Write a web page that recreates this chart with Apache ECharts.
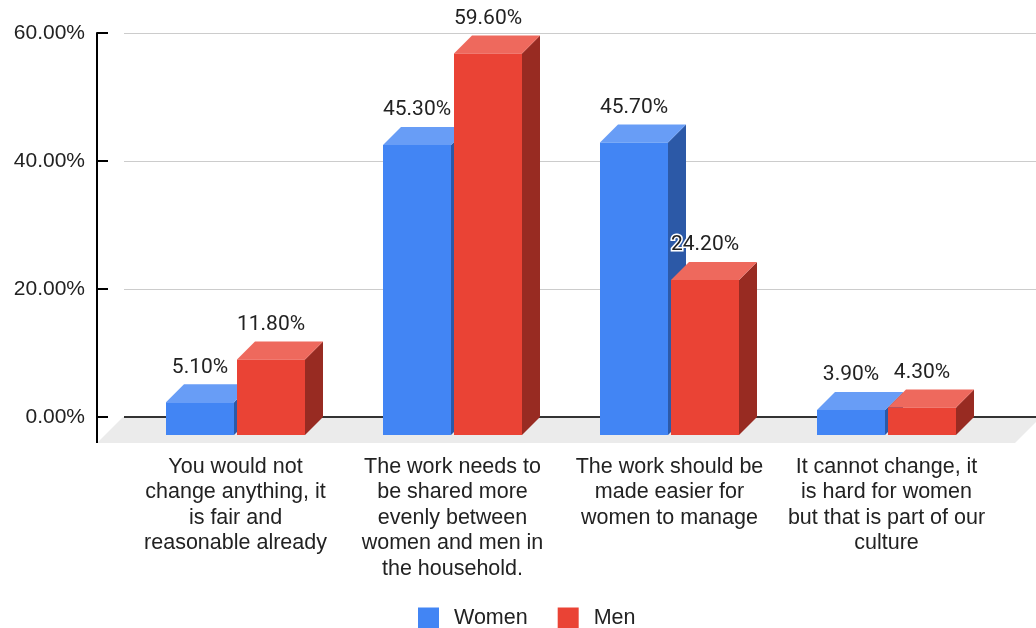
<!DOCTYPE html>
<html>
<head>
<meta charset="utf-8">
<style>
  html, body { margin: 0; padding: 0; background: #fff; }
  #chart { width: 1036px; height: 628px; }
</style>
<script src="https://cdn.jsdelivr.net/npm/echarts@6/dist/echarts.min.js"></script>
</head>
<body>
<div id="chart"></div>
<script>
// Survey answers: how household work should change
const categories = [
  'You would not\nchange anything, it\nis fair and\nreasonable already',
  'The work needs to\nbe shared more\nevenly between\nwomen and men in\nthe household.',
  'The work should be\nmade easier for\nwomen to manage',
  'It cannot change, it\nis hard for women\nbut that is part of our\nculture'
];
const seriesNames = ['Women', 'Men'];
const women = [5.1, 45.3, 45.7, 3.9];
const men = [11.8, 59.6, 24.2, 4.3];
const yMin = 0, yMax = 60, yStep = 20;

const FONT = '"Liberation Sans", Arial, sans-serif';
const LABEL_FONT = 'Roboto, "Liberation Sans", Arial, sans-serif';
const TEXT = '#222';
const DEPTH = 18;      // bar depth (projected)
const FLOOR = 26;      // floor depth (projected)
const BAR_W = 68;
const BAR_GAP = 1.5;

const palettes = {
  Women: { front: '#4285F4', top: '#689DF6', side: '#2C59A7' },
  Men:   { front: '#EA4335', top: '#EE695D', side: '#982B22' }
};

function fmt(v) { return v.toFixed(2) + '%'; }

function barX(center, side) {
  return side < 0 ? center - BAR_GAP - BAR_W : center + BAR_GAP;
}

function makeBar(side, pal) {
  return function (params, api) {
    const t = api.coord([api.value(0), api.value(1)]);
    const b = api.coord([api.value(0), 0]);
    const x0 = barX(t[0], side), x1 = x0 + BAR_W;
    const yT = t[1], y0 = b[1], d = DEPTH;
    return {
      type: 'group',
      children: [
        { type: 'polygon', shape: { points: [[x1, yT + d], [x1 + d, yT], [x1 + d, y0], [x1, y0 + d]] },
          style: { fill: pal.side } },
        { type: 'polygon', shape: { points: [[x0, yT + d], [x0 + d, yT], [x1 + d, yT], [x1, yT + d]] },
          style: { fill: pal.top } },
        { type: 'rect', shape: { x: x0, y: yT + d, width: BAR_W, height: y0 - yT },
          style: { fill: pal.front } }
      ]
    };
  };
}

function renderLabel(params, api) {
  const t = api.coord([api.value(0), api.value(1)]);
  const x0 = barX(t[0], api.value(2));
  return {
    type: 'text',
    x: x0 + BAR_W / 2,
    y: t[1] - 17,
    style: {
      text: fmt(api.value(1)),
      fill: TEXT, stroke: '#fff', lineWidth: 3,
      fontSize: 21, fontFamily: LABEL_FONT,
      align: 'center', verticalAlign: 'middle'
    }
  };
}

// Floor of the 3D plot, the baseline and the lower end of the value axis line
function renderFloor(params, api) {
  const p0 = api.coord([0, 0]);
  const p1 = api.coord([1, 0]);
  const y = p0[1];
  const xl = p0[0] - 1;
  return {
    type: 'group',
    children: [
      { type: 'polygon',
        shape: { points: [[xl, y], [p1[0] + 5, y], [p1[0] + 5 - FLOOR, y + FLOOR], [xl - FLOOR, y + FLOOR]] },
        style: { fill: '#ebebeb' } },
      { type: 'line',
        shape: { x1: p0[0], y1: y, x2: p1[0], y2: y },
        style: { stroke: '#333', lineWidth: 2 } },
      { type: 'line',
        shape: { x1: p0[0] - 27, y1: y - 1, x2: p0[0] - 27, y2: y + FLOOR },
        style: { stroke: '#000', lineWidth: 2 } }
    ]
  };
}

const labelData = [];
women.forEach((v, i) => labelData.push([i, v, -1]));
men.forEach((v, i) => labelData.push([i, v, 1]));

const chart = echarts.init(document.getElementById('chart'), null, { renderer: 'canvas' });
chart.setOption({
  animation: false,
  backgroundColor: '#fff',
  textStyle: { fontFamily: FONT },
  legend: {
    data: seriesNames,
    left: 418, top: 607, padding: 0,
    icon: 'rect', itemWidth: 21, itemHeight: 21, itemGap: 30,
    selectedMode: false,
    textStyle: { fontSize: 21.5, color: TEXT, fontFamily: FONT, padding: [5, 0, 0, 10] }
  },
  grid: [
    // back plane: value gridlines
    { left: 124, right: 0, top: 33, bottom: 211 },
    // bar plane: category positions
    { left: 127, right: 41, top: 33, bottom: 211 }
  ],
  xAxis: [
    { gridIndex: 0, type: 'value', min: 0, max: 1, show: false },
    { gridIndex: 1, type: 'category', data: categories,
      axisLine: { show: false }, axisTick: { show: false },
      axisLabel: { interval: 0, margin: 37, fontSize: 21.5, lineHeight: 25.5, color: TEXT, fontFamily: FONT, align: 'center' } }
  ],
  yAxis: [
    { gridIndex: 0, type: 'value', min: yMin, max: yMax, interval: yStep, offset: 27, z: 2,
      axisLine: { show: true, onZero: false, lineStyle: { color: '#000', width: 2 } },
      axisTick: { show: true, inside: true, length: 11, lineStyle: { color: '#000', width: 2 } },
      axisLabel: { formatter: fmt, margin: 12, fontSize: 21, color: TEXT, fontFamily: FONT },
      splitLine: { show: true, lineStyle: { color: ['#333', '#ccc', '#ccc', '#ccc'], width: 1 } } },
    { gridIndex: 1, type: 'value', min: yMin, max: yMax, interval: yStep, show: false,
      splitLine: { show: false } }
  ],
  series: [
    { type: 'custom', name: 'floor', xAxisIndex: 0, yAxisIndex: 0, z: 1, silent: true,
      data: [[0, 0]], renderItem: renderFloor },
    { type: 'custom', name: seriesNames[0], xAxisIndex: 1, yAxisIndex: 1, z: 3, silent: true,
      itemStyle: { color: palettes.Women.front },
      encode: { x: 0, y: 1 },
      data: women.map((v, i) => [i, v]), renderItem: makeBar(-1, palettes.Women) },
    { type: 'custom', name: seriesNames[1], xAxisIndex: 1, yAxisIndex: 1, z: 3, silent: true,
      itemStyle: { color: palettes.Men.front },
      encode: { x: 0, y: 1 },
      data: men.map((v, i) => [i, v]), renderItem: makeBar(1, palettes.Men) },
    { type: 'custom', name: 'values', xAxisIndex: 1, yAxisIndex: 1, z: 4, silent: true,
      encode: { x: 0, y: 1 },
      data: labelData, renderItem: renderLabel }
  ]
});
</script>
</body>
</html>
